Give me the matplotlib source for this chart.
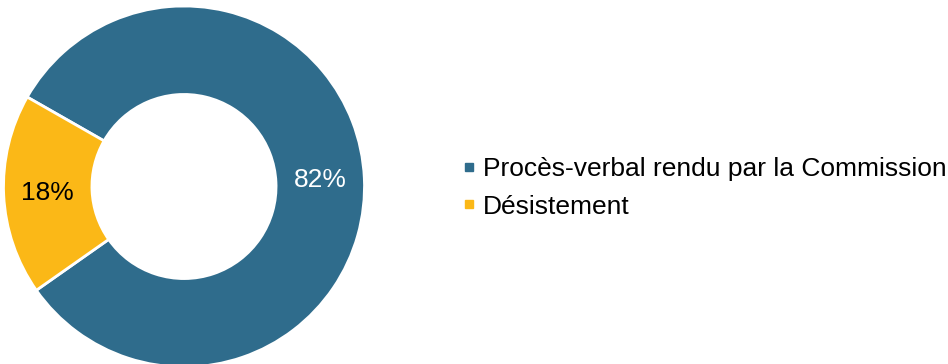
import matplotlib
matplotlib.use("Agg")
import matplotlib.pyplot as plt
from matplotlib.lines import Line2D
import numpy as np

categories = ["Procès-verbal rendu par la Commission", "Désistement"]
values = [82, 18]
pct_labels = ["82%", "18%"]
colors = ["#2F6C8C", "#FBB817"]
label_colors = ["white", "black"]

plt.rcParams['font.family'] = ['Liberation Sans', 'DejaVu Sans']

W, H = 948, 364
fig = plt.figure(figsize=(W/100, H/100), dpi=100)
cx, cy, R = 184, 177.5, 180.5
ax = fig.add_axes([(cx-R)/W, (cy-R)/H, 2*R/W, 2*R/H])
wedges, _ = ax.pie(values, colors=colors, startangle=150.3, counterclock=False,
                   radius=1.0, wedgeprops=dict(width=0.49, edgecolor='white', linewidth=2))
for w, lab, c in zip(wedges, pct_labels, label_colors):
    ang = np.deg2rad((w.theta1 + w.theta2) / 2)
    r = 0.755
    ax.text(r*np.cos(ang), r*np.sin(ang), lab, ha='center', va='center',
            fontsize=19, color=c)
ax.set_xlim(-1, 1)
ax.set_ylim(-1, 1)
ax.set_aspect('equal')
ax.axis('off')

handles = [Line2D([], [], marker='s', linestyle='none', markersize=6.3,
                  markerfacecolor=col, markeredgecolor=col) for col in colors]
fig.legend(handles, categories, loc='center left',
           bbox_to_anchor=(461/W, (H-188)/H), frameon=False, fontsize=19,
           handlelength=0.6, handletextpad=0.23, labelspacing=0.5,
           borderpad=0, borderaxespad=0)
fig.savefig("out.png", dpi=100)
